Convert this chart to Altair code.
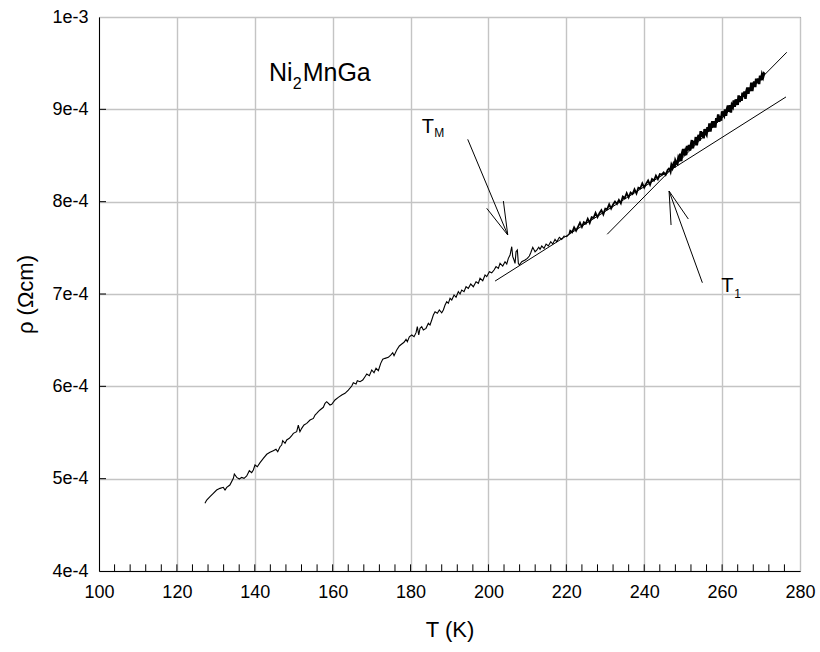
import altair as alt
import pandas as pd

FONT = "Liberation Sans"

# ---- measured curve: temperature T (K) and resistivity rho (in units of 1e-4 Ohm cm)
T_a = [127.2, 127.66, 128.5, 129.35, 130.2, 131.07, 131.92, 132.36, 132.8, 133.6, 134.5, 134.75,
       135.36, 136.03, 136.65, 137.24, 137.93, 138.6, 139.2, 139.63, 140.06, 140.65, 141.35, 142.2,
       143.07, 143.9, 144.76, 145.45, 145.9, 146.48, 146.9, 147.17, 147.77, 148.2, 148.87, 149.48,
       149.9, 150.76, 151.18, 151.6, 152.05, 152.64, 153.34, 154.19, 155.05, 155.47, 155.9, 156.3,
       156.75, 157.6, 158.04, 158.47, 159.32]
rho_a = [4.733, 4.769, 4.805, 4.841, 4.877, 4.895, 4.906, 4.877, 4.906, 4.931, 5.004, 5.05,
         5.014, 4.996, 5.014, 5.004, 5.029, 5.086, 5.065, 5.094, 5.148, 5.129, 5.173, 5.22,
         5.264, 5.285, 5.303, 5.318, 5.292, 5.346, 5.364, 5.411, 5.383, 5.419, 5.437, 5.465,
         5.491, 5.509, 5.581, 5.509, 5.545, 5.581, 5.599, 5.635, 5.653, 5.689, 5.707, 5.725,
         5.744, 5.773, 5.816, 5.834, 5.798]

T_b = [159.76, 160.6, 161.45, 162.33, 163.17, 164.02, 164.9, 165.3, 166.0, 166.33, 167.03, 167.72,
       168.3, 168.75, 169.42, 170.03, 170.62, 171.13, 171.73, 172.34, 172.86, 173.45, 174.29, 174.9,
       175.42, 175.76, 176.45, 177.12, 177.74, 178.32, 178.84, 179.17, 179.69, 180.3, 180.9, 181.41,
       181.74, 182.1, 182.43, 182.87, 183.28, 183.97, 184.57, 185.0, 185.44, 185.85, 186.29, 186.88,
       187.39, 188.0, 188.42]
rho_b = [5.805, 5.852, 5.881, 5.906, 5.924, 5.96, 6.003, 6.039, 6.025, 6.061, 6.05, 6.068,
         6.104, 6.133, 6.115, 6.177, 6.148, 6.195, 6.169, 6.249, 6.293, 6.303, 6.314, 6.339,
         6.364, 6.332, 6.393, 6.437, 6.458, 6.477, 6.509, 6.484, 6.537, 6.556, 6.537, 6.581,
         6.646, 6.556, 6.628, 6.646, 6.61, 6.628, 6.683, 6.664, 6.718, 6.772, 6.808, 6.791,
         6.827, 6.797, 6.827]

T_c = [188.86, 189.29, 189.7, 190.14, 190.58, 191.17, 191.68, 192.27, 192.71, 193.14, 193.73, 194.25,
       194.84, 195.45, 196.12, 196.81, 197.41, 197.84, 198.54, 199.13, 199.56, 200.23, 200.85, 201.44,
       201.95, 202.54, 202.98, 203.67, 204.26, 204.7, 205.11, 205.55, 205.72, 205.98, 206.24, 206.57,
       206.83, 207.09, 207.42, 207.68, 207.94, 208.55, 209.4, 209.99, 210.5, 210.86, 211.38, 211.97,
       212.4, 212.92, 213.25, 213.69, 214.28, 214.8, 215.38, 216.0, 216.51, 217.1, 217.54, 218.21,
       218.82, 219.41, 220.1, 220.78]
rho_c = [6.881, 6.917, 6.899, 6.953, 6.935, 6.989, 6.964, 7.025, 7.0, 7.043, 7.025, 7.079,
         7.061, 7.108, 7.079, 7.133, 7.116, 7.17, 7.144, 7.206, 7.188, 7.241, 7.23, 7.26,
         7.296, 7.278, 7.332, 7.303, 7.35, 7.325, 7.386, 7.422, 7.458, 7.512, 7.404, 7.368,
         7.332, 7.458, 7.476, 7.332, 7.314, 7.35, 7.368, 7.386, 7.411, 7.447, 7.506, 7.458,
         7.476, 7.506, 7.484, 7.52, 7.495, 7.541, 7.52, 7.566, 7.541, 7.592, 7.566, 7.614,
         7.592, 7.628, 7.62, 7.65]

# dense, noisy part of the measurement (drawn as a thicker trace)
T_d = [220.78, 221.0, 221.5, 222.0, 222.5, 223.0, 223.5, 224.0, 224.5, 225.0, 225.5, 226.0, 226.5,
       227.0, 227.5, 228.0, 228.5, 229.0, 229.5, 230.0, 230.5, 231.0, 231.5, 232.0, 232.5,
       233.0, 233.5, 234.0, 234.5, 235.0, 235.5, 236.0, 236.5, 237.0, 237.5, 238.0, 238.5,
       239.0, 239.5, 240.0, 240.5, 241.0, 241.5, 242.0, 242.5, 243.0, 243.5, 244.0, 244.5,
       245.0, 245.5, 246.0, 246.5]
rho_d = [7.65, 7.685, 7.668, 7.722, 7.685, 7.728, 7.772, 7.725, 7.778, 7.762, 7.815, 7.769, 7.832,
         7.825, 7.879, 7.832, 7.875, 7.909, 7.862, 7.925, 7.919, 7.972, 7.925, 7.969, 8.002,
         7.975, 8.019, 7.982, 8.055, 8.039, 8.092, 8.045, 8.099, 8.082, 8.135, 8.089, 8.152,
         8.145, 8.199, 8.152, 8.195, 8.229, 8.182, 8.245, 8.229, 8.282, 8.245, 8.299, 8.292,
         8.316, 8.289, 8.342, 8.365]

T_e = [246.5, 246.75, 247.0, 247.25, 247.5, 247.75, 248.0, 248.25, 248.5, 248.75,
       249.0, 249.25, 249.5, 249.75, 250.0, 250.25, 250.5, 250.75, 251.0, 251.25,
       251.5, 251.75, 252.0, 252.25, 252.5, 252.75, 253.0, 253.25, 253.5, 253.75,
       254.0, 254.25, 254.5, 254.75, 255.0, 255.25, 255.5, 255.75, 256.0, 256.25,
       256.5, 256.75, 257.0, 257.25, 257.5, 257.75, 258.0, 258.25, 258.5, 258.75,
       259.0, 259.25, 259.5, 259.75, 260.0, 260.25, 260.5, 260.75, 261.0, 261.25,
       261.5, 261.75, 262.0, 262.25, 262.5, 262.75, 263.0, 263.25, 263.5, 263.75,
       264.0, 264.25, 264.5, 264.75, 265.0, 265.25, 265.5, 265.75, 266.0, 266.25,
       266.5, 266.75, 267.0, 267.25, 267.5, 267.75, 268.0, 268.25, 268.5, 268.75,
       269.0, 269.25, 269.5, 269.75, 270.0, 270.25, 270.5, 270.75, 271.0]
rho_e = [8.365, 8.334, 8.392, 8.367, 8.402, 8.370, 8.441, 8.416, 8.409, 8.467,
         8.436, 8.519, 8.439, 8.530, 8.571, 8.501, 8.542, 8.503, 8.603, 8.554,
         8.615, 8.555, 8.616, 8.667, 8.578, 8.658, 8.619, 8.700, 8.610, 8.691,
         8.722, 8.662, 8.763, 8.704, 8.754, 8.685, 8.786, 8.747, 8.727, 8.808,
         8.759, 8.849, 8.760, 8.831, 8.871, 8.802, 8.873, 8.803, 8.904, 8.865,
         8.945, 8.866, 8.927, 8.877, 8.978, 8.949, 8.930, 9.000, 8.931, 9.002,
         9.042, 8.973, 9.044, 8.964, 9.045, 9.026, 9.096, 9.027, 9.108, 9.078,
         9.049, 9.150, 9.080, 9.141, 9.092, 9.182, 9.133, 9.194, 9.115, 9.195,
         9.236, 9.167, 9.237, 9.198, 9.289, 9.199, 9.270, 9.301, 9.241, 9.332,
         9.283, 9.333, 9.274, 9.365, 9.315, 9.376, 9.347, 9.387, 9.378]

# ---- straight fit lines (start T, start rho, end T, end rho), rho in 1e-4 Ohm cm
fit_T_start = [201.7, 230.5]
fit_rho_start = [7.14, 7.647]
fit_T_end = [276.4, 276.6]
fit_rho_end = [9.134, 9.618]

# ---- annotation arrows (segments): shaft + two head strokes
arrow_T_start = [194.68, 204.96, 204.96, 254.93, 246.38, 246.38]
arrow_rho_start = [8.675, 7.639, 7.639, 7.122, 8.115, 8.115]
arrow_T_end = [204.96, 199.56, 203.83, 246.38, 246.89, 251.33]
arrow_rho_end = [7.639, 7.928, 8.007, 8.115, 7.747, 7.812]

# ---- axes
x_major = [100, 120, 140, 160, 180, 200, 220, 240, 260, 280]
x_minor = [104, 108, 112, 116, 120, 124, 128, 132, 136, 140, 144, 148, 152, 156, 160, 164, 168,
           172, 176, 180, 184, 188, 192, 196, 200, 204, 208, 212, 216, 220, 224, 228, 232, 236,
           240, 244, 248, 252, 256, 260, 264, 268, 272, 276]
y_major = [4e-4, 5e-4, 6e-4, 7e-4, 8e-4, 9e-4, 1e-3]

E4 = 1e-4


def make_df(parts):
    rows = []
    for Ts, rs in parts:
        for t, r in zip(Ts, rs):
            rows.append({"T": t, "rho": r * E4})
    df = pd.DataFrame(rows)
    df["i"] = range(len(df))
    return df


curve_df = make_df([(T_a, rho_a), (T_b, rho_b), (T_c, rho_c)])
band1_df = make_df([(T_d, rho_d)])
band2_df = make_df([(T_e, rho_e)])

fit_df = pd.DataFrame({"x": fit_T_start, "y": [v * E4 for v in fit_rho_start],
                       "x2": fit_T_end, "y2": [v * E4 for v in fit_rho_end]})
arrow_df = pd.DataFrame({"x": arrow_T_start, "y": [v * E4 for v in arrow_rho_start],
                         "x2": arrow_T_end, "y2": [v * E4 for v in arrow_rho_end]})

XLEN = 1.8        # inner tick length on y axis, in K
YLEN = 7.2e-6     # inner tick length on x axis, in Ohm cm
xt_df = pd.DataFrame({"x": x_minor, "y": [4e-4] * len(x_minor), "y2": [4e-4 + YLEN] * len(x_minor)})
yt_df = pd.DataFrame({"y": y_major[1:-1], "x": [100] * 5, "x2": [100 + XLEN] * 5})

xs = alt.Scale(domain=[100, 280], nice=False, zero=False)
ys = alt.Scale(domain=[4e-4, 1e-3], nice=False, zero=False)
AX = dict(labelFont=FONT, titleFont=FONT, labelFontSize=18, titleFontSize=22,
          titleFontWeight="normal", labelColor="black", titleColor="black",
          domainColor="black", domainWidth=1, gridColor="#c4c4c4", gridWidth=1.4, ticks=False,
          grid=True, labelFlush=False, labelOverlap=False)
xaxis = alt.Axis(values=x_major, title="T (K)", format="d",
                 labelPadding=12, titlePadding=18, **AX)
yaxis = alt.Axis(values=y_major, title="ρ (Ωcm)",
                 labelExpr="format(datum.value, '.0e')", labelPadding=11, titlePadding=14, **AX)


def X(f):
    return alt.X(f, scale=xs, axis=xaxis, title="T (K)")


def Y(f):
    return alt.Y(f, scale=ys, axis=yaxis, title="ρ (Ωcm)")


def trace(df, width):
    return alt.Chart(df).mark_line(color="black", strokeWidth=width).encode(
        x=X("T:Q"), y=Y("rho:Q"), order="i:Q")


curve = trace(curve_df, 1.1)
band1 = trace(band1_df, 1.8)
band2 = trace(band2_df, 2.5)


def seg(df, width=1.0):
    return alt.Chart(df).mark_rule(color="black", strokeWidth=width).encode(
        x=X("x:Q"), y=Y("y:Q"), x2="x2:Q", y2="y2:Q")


fits = seg(fit_df)
arrows = seg(arrow_df)
xticks = alt.Chart(xt_df).mark_rule(color="black", strokeWidth=1).encode(
    x=X("x:Q"), y=Y("y:Q"), y2="y2:Q")
yticks = alt.Chart(yt_df).mark_rule(color="black", strokeWidth=1).encode(
    x=X("x:Q"), x2="x2:Q", y=Y("y:Q"))


def label(text, t, r, size):
    d = pd.DataFrame({"x": [t], "y": [r * E4], "t": [text]})
    return alt.Chart(d).mark_text(align="left", baseline="alphabetic", font=FONT,
                                  fontSize=size, color="black").encode(
        x=X("x:Q"), y=Y("y:Q"), text="t:N")


texts = [
    label("Ni", 143.66, 9.307, 25),
    label("2", 149.75, 9.22, 16),
    label("MnGa", 152.3, 9.307, 25),
    label("T", 182.9, 8.740, 20),
    label("M", 186.1, 8.695, 12),
    label("T", 259.8, 7.027, 20),
    label("1", 263.1, 6.962, 12),
]

chart = alt.layer(curve, band1, band2, fits, arrows, xticks, yticks, *texts).properties(
    width=701, height=554,
    background="white",
    autosize=alt.AutoSizeParams(type="none"),
    padding={"left": 99, "top": 17, "right": 20, "bottom": 81},
).configure_view(
    stroke="#333333", strokeWidth=1
)

chart.save("out.html", embed_options={"renderer": "svg", "actions": False})
